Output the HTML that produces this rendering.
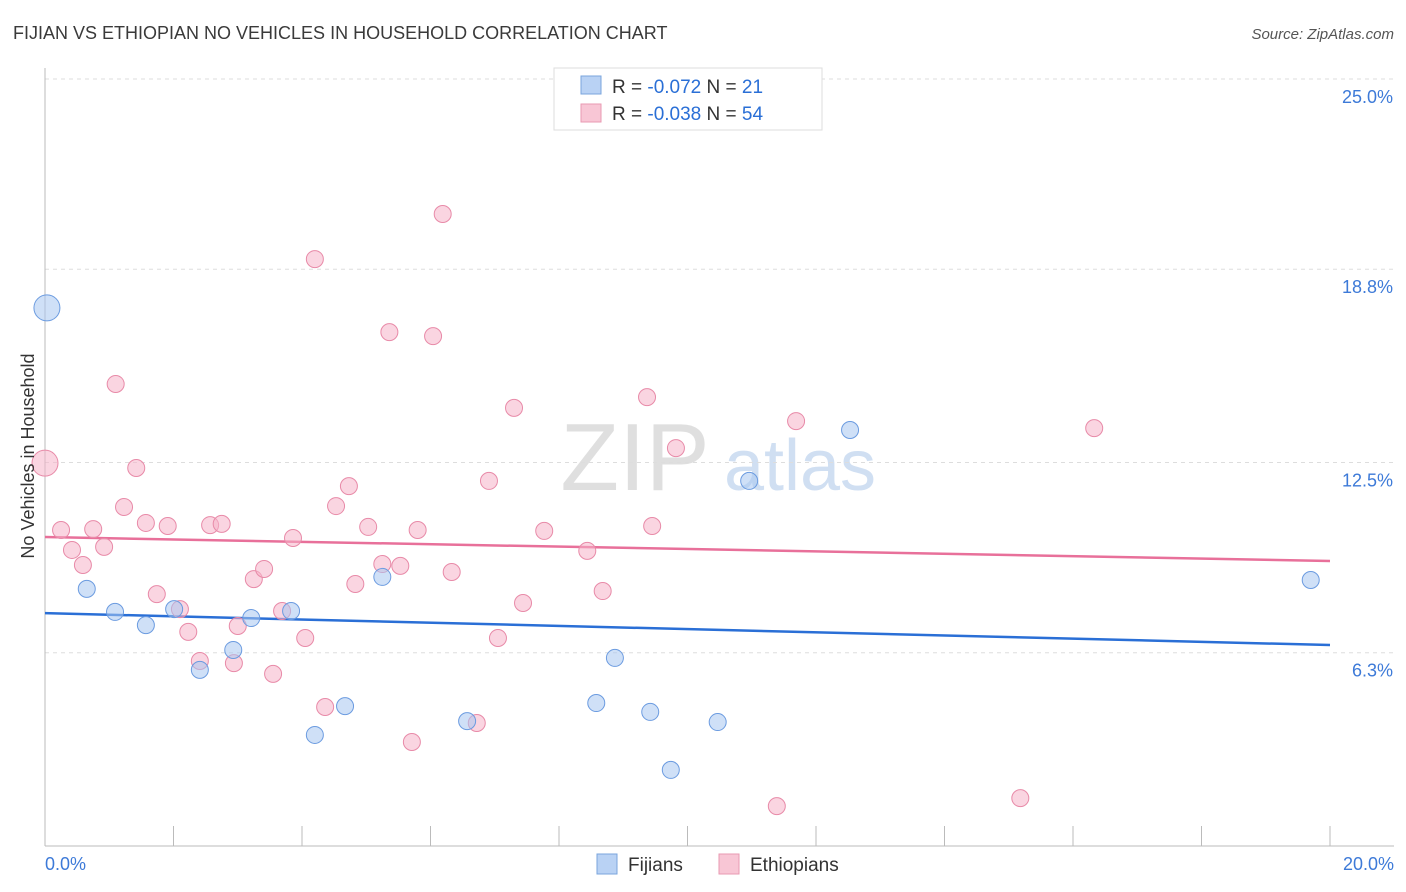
<!DOCTYPE html>
<html><head><meta charset="utf-8">
<style>
body{margin:0;background:#fff;font-family:"Liberation Sans",sans-serif;}
#wrap{position:relative;width:1406px;height:892px;overflow:hidden;}
svg text{font-family:"Liberation Sans",sans-serif;}
</style></head>
<body>
<div id="wrap">
<svg id="chart" width="1406" height="892">
<text x="13" y="39" font-size="18" fill="#3a3a3a">FIJIAN VS ETHIOPIAN NO VEHICLES IN HOUSEHOLD CORRELATION CHART</text>
<text x="1394" y="39" font-size="15" fill="#555" font-style="italic" text-anchor="end">Source: ZipAtlas.com</text>
<g>
<text x="635" y="490" font-size="96" fill="#d8d8d8" font-family="Liberation Serif" text-anchor="middle" opacity="0.8">ZIP</text>
<text x="800" y="490" font-size="72" fill="#c5d8f0" text-anchor="middle" opacity="0.8">atlas</text>
</g>
<g id="grid"></g>
<g id="axes"></g>
<g id="lines"></g>
<g id="points"></g>
<text transform="translate(34,456) rotate(-90)" font-size="18" fill="#333" text-anchor="middle">No Vehicles in Household</text>
<g>
<rect x="554" y="68" width="268" height="62" fill="#fff" stroke="#ddd"/>
<rect x="581" y="76" width="20" height="18" fill="#b9d2f4" stroke="#7aa4dc"/>
<rect x="581" y="104" width="20" height="18" fill="#f8c6d5" stroke="#e89ab2"/>
<text x="612" y="93" font-size="19" fill="#333">R = <tspan fill="#2a6fd6">-0.072</tspan>   N =  <tspan fill="#2a6fd6">21</tspan></text>
<text x="612" y="120" font-size="19" fill="#333">R = <tspan fill="#2a6fd6">-0.038</tspan>   N = <tspan fill="#2a6fd6">54</tspan></text>
</g>
<g>
<rect x="597" y="854" width="20" height="20" fill="#b9d2f4" stroke="#7aa4dc"/>
<text x="628" y="871" font-size="19" fill="#333">Fijians</text>
<rect x="719" y="854" width="20" height="20" fill="#f8c6d5" stroke="#e89ab2"/>
<text x="750" y="871" font-size="19" fill="#333">Ethiopians</text>
</g>
</svg>
</div>
<script>
const yTicks=[25,18.8,12.5,6.3];
const yTickLabels=["25.0%","18.8%","12.5%","6.3%"];
const xTickVals=[0,2,4,6,8,10,12,14,16,18,20];
const xEndLabels=["0.0%","20.0%"];
const fijiX=[0.03,0.65,1.09,1.57,2.01,2.41,2.93,3.21,3.83,4.2,4.67,5.25,6.57,8.58,8.87,9.42,9.74,10.47,10.96,12.53,19.7];
const fijiY=[17.54,8.38,7.63,7.2,7.72,5.74,6.39,7.43,7.66,3.62,4.56,8.77,4.07,4.66,6.13,4.37,2.48,4.04,11.9,13.56,8.67];
const ethX=[0,0.25,0.42,0.59,0.75,0.92,1.1,1.23,1.42,1.57,1.74,1.91,2.1,2.23,2.41,2.57,2.75,2.94,3.0,3.25,3.41,3.55,3.69,3.86,4.05,4.2,4.36,4.53,4.73,4.83,5.03,5.25,5.36,5.53,5.71,5.8,6.04,6.19,6.33,6.72,6.91,7.05,7.3,7.44,7.77,8.44,8.68,9.37,9.45,9.82,11.39,11.69,15.18,16.33];
const ethY=[12.48,10.3,9.65,9.16,10.33,9.75,15.06,11.05,12.32,10.53,8.21,10.43,7.72,6.98,6.03,10.46,10.5,5.96,7.17,8.7,9.03,5.61,7.66,10.04,6.78,19.13,4.53,11.08,11.73,8.54,10.4,9.19,16.75,9.13,3.39,10.3,16.62,20.6,8.93,4.01,11.9,6.78,14.28,7.92,10.27,9.62,8.31,14.63,10.43,12.97,1.3,13.85,1.56,13.62];
const fijiTrend=[7.59,6.55];
const ethTrend=[10.07,9.29];
const NS="http://www.w3.org/2000/svg";
const X=v=>45+v*64.25, Y=v=>846-v*30.68;
function mk(tag,attrs,parent){const e=document.createElementNS(NS,tag);for(const k in attrs)e.setAttribute(k,attrs[k]);document.getElementById(parent).appendChild(e);return e;}
yTicks.forEach((t,i)=>{
 const l=mk('line',{x1:45,x2:1394,y1:Y(t),y2:Y(t),stroke:'#ddd','stroke-dasharray':'4,4'},'grid');
 
 
 const tx=mk('text',{x:1393,y:Y(t)+24,'font-size':18,fill:'#3d7ad8','text-anchor':'end'},'grid');
 tx.textContent=yTickLabels[i];
 
 
});
const la=mk('line',{x1:45,x2:45,y1:68,y2:846,stroke:'#bbb'},'axes');


const lb=mk('line',{x1:45,x2:1394,y1:846,y2:846,stroke:'#bbb'},'axes');


xTickVals.forEach(v=>{
 const t=mk('line',{x1:X(v),x2:X(v),y1:826,y2:846,stroke:'#bbb'},'axes');
 
 
});
[[0,'start',45],[20,'end',1394]].forEach((d,i)=>{
 const t=mk('text',{x:d[2],y:870,'font-size':18,fill:'#3d7ad8','text-anchor':d[1]},'axes');
 t.textContent=xEndLabels[i];
 
 
});
function pts(xs,ys,fill,stroke,name){
 xs.forEach((x,i)=>{
  const big=(x<0.1);
  const c=mk('circle',{cx:X(x),cy:Y(ys[i]),r:big?13:8.5,fill:fill,'fill-opacity':0.55,stroke:stroke,'stroke-width':1},'points');
  
  
 });
}
pts(ethX,ethY,'#f5b3c8','#e88aa8','ethiopian-point');
pts(fijiX,fijiY,'#a8c7f0','#6b9be0','fijian-point');
const tf=mk('line',{x1:X(0),x2:X(20),y1:Y(fijiTrend[0]),y2:Y(fijiTrend[1]),stroke:'#2a6fd6','stroke-width':2.5},'lines');


const te=mk('line',{x1:X(0),x2:X(20),y1:Y(ethTrend[0]),y2:Y(ethTrend[1]),stroke:'#e8709a','stroke-width':2.5},'lines');


</script>
</body></html>
